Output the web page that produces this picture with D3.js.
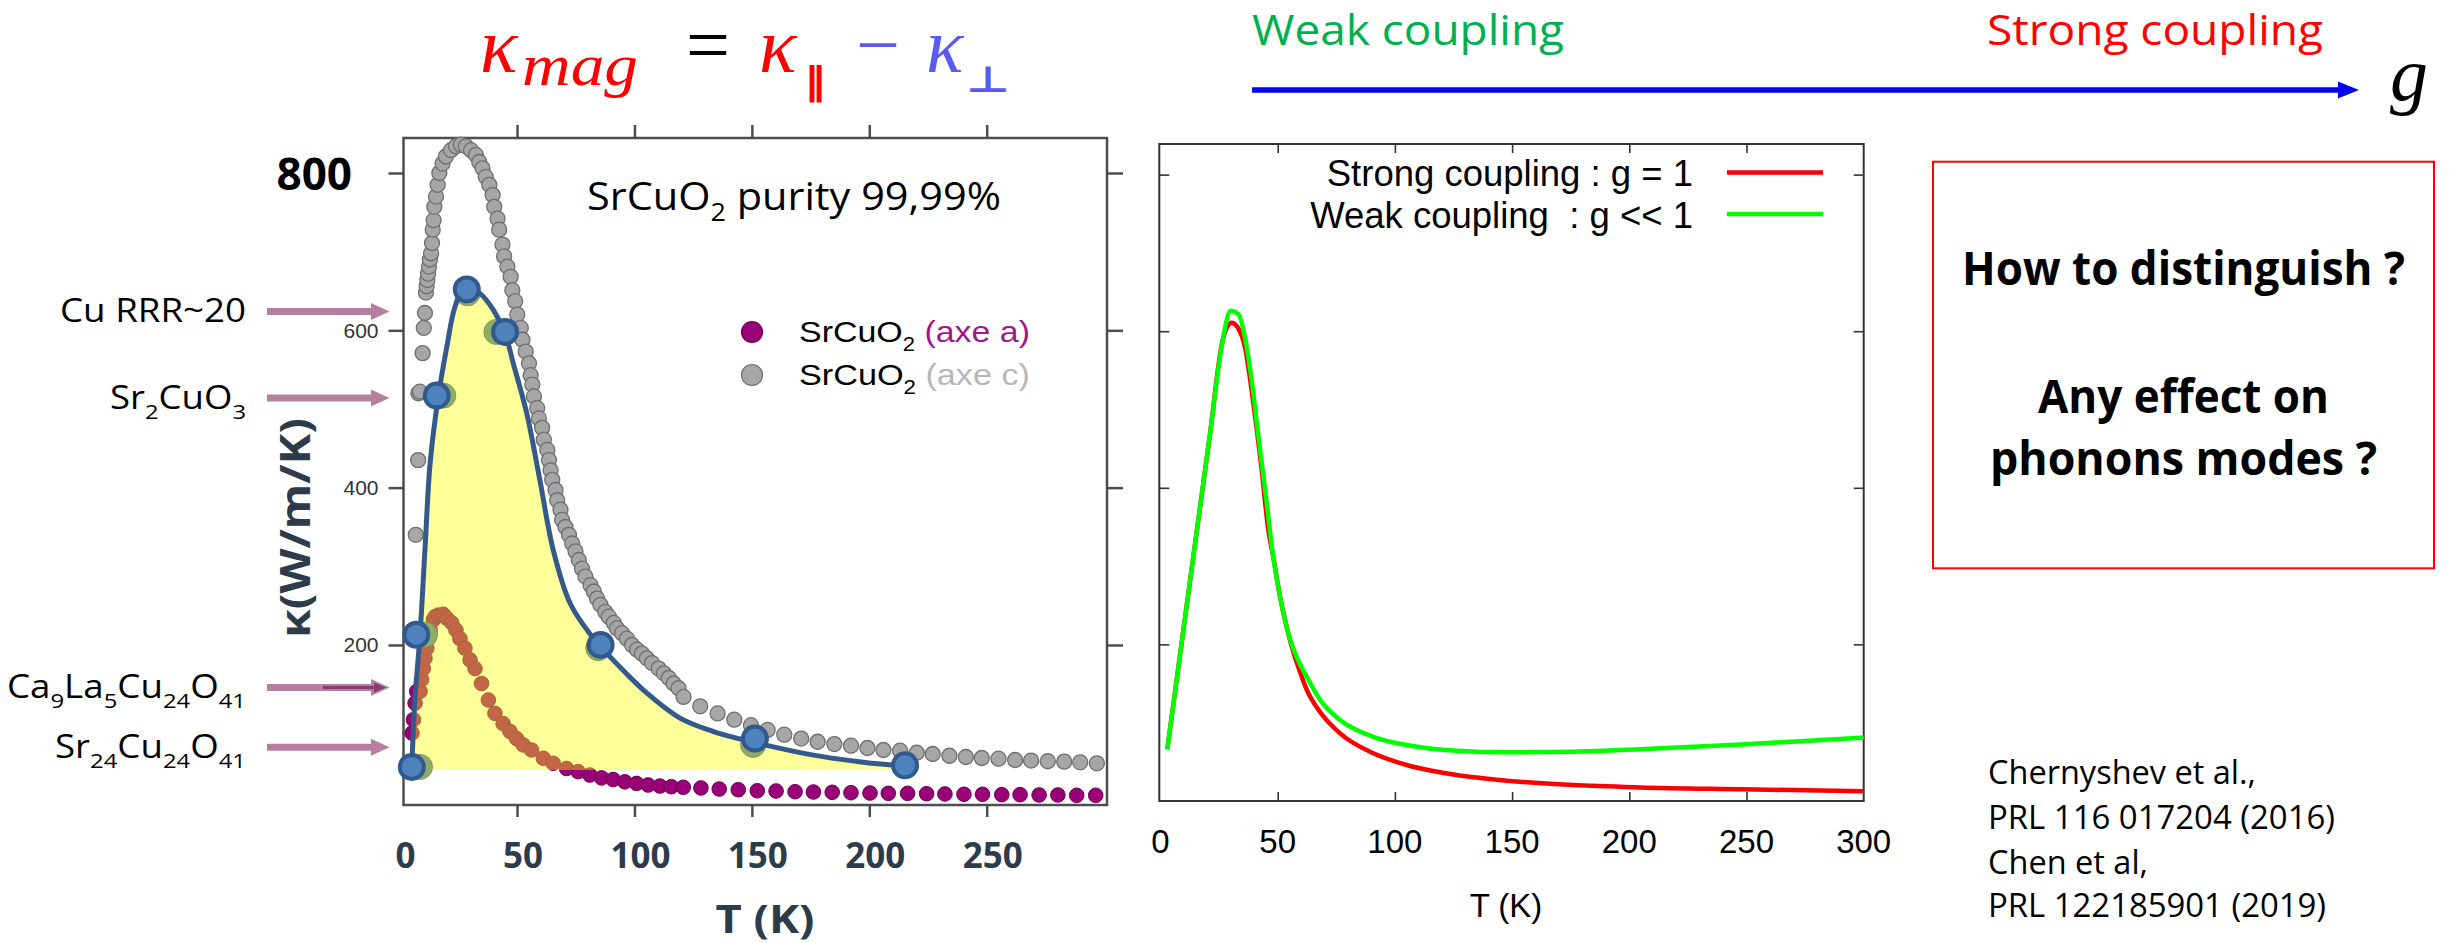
<!DOCTYPE html>
<html>
<head>
<meta charset="utf-8">
<script src="https://cdn.jsdelivr.net/npm/d3@7"></script>
<style>
  body { margin: 0; background: #fff; }
  svg { display: block; }
</style>
</head>
<body>
<div id="chart"></div>
<script>
// ---------- data ----------
// left panel: SrCuO2, axe c (grey dots)
const grayT = [6.9, 7.9, 8.0, 8.6, 9.8, 10.3, 10.8, 11.2, 11.5, 11.8, 12.1, 12.5, 12.9, 13.4, 13.8, 14.1, 14.5, 14.8, 15.5, 16.2, 16.9,
  18.3, 19.7, 21.9, 24.0, 26.1, 28.2, 30.4, 32.5, 33.9, 35.3, 36.7, 38.2, 39.6, 40.3, 41.7, 42.4, 43.8, 44.5, 45.9, 47.3,
  48.0, 49.2, 50.1, 51.6, 52.3, 53.7, 55.1, 55.8, 56.5, 57.2, 58.6, 59.3, 60.7, 61.4, 62.9, 63.6, 64.3, 65.0, 66.4, 67.1,
  68.5, 69.2, 70.6, 72.1, 73.5, 74.9, 76.3, 77.7, 79.1, 81.3, 82.7, 84.1, 85.5, 87.6, 89.1, 91.2, 92.6, 94.7, 96.8, 99.0,
  101.1, 103.2, 105.3, 107.5, 110.3, 112.5, 114.6, 116.7, 118.8, 120.9, 128.0, 135.4, 142.5, 149.6, 156.7, 163.8, 171.0, 178.0, 185.1, 192.2,
  199.2, 206.0, 213.1, 220.2, 227.0, 234.1, 241.1, 247.9, 255.0, 262.1, 268.9, 276.0, 283.0, 289.8, 296.9];
const grayK = [340, 435, 520, 522, 571, 603, 622, 648, 656, 664, 672, 681, 690, 698, 711, 728, 740, 757, 770, 785, 800,
  812, 821, 829, 834, 836, 834, 829, 823, 814, 806, 795, 785, 772, 757, 742, 728, 709, 694, 681, 668,
  651, 637, 620, 603, 588, 573, 558, 543, 531, 516, 501, 488, 476, 461, 448, 435, 422, 410, 397, 384,
  372, 359, 350, 340, 329, 319, 308, 297, 287, 276, 268, 259, 251, 242, 236, 228, 221, 215, 208, 200,
  194, 189, 183, 177, 170, 164, 158, 151, 145, 134, 122, 113, 105, 98, 92, 86, 81, 77, 74, 72,
  69, 66.5, 65.6, 63, 61.4, 59.2, 57.6, 56.3, 55.5, 53.8, 53, 52.2, 51.7, 50.8, 49.6];

// left panel: SrCuO2, axe a (purple dots)
const purpleT = [5.3, 5.9, 6.6, 7.3, 8.7, 9.4, 10.1, 10.8, 11.6, 12.3, 13.0, 14.4, 15.1, 16.5,
  18.6, 20.1, 22.2, 24.0, 25.7, 27.8, 30.0, 32.1, 34.9, 37.8, 40.6, 44.1, 47.0, 49.8, 52.6, 56.2, 61.2, 65.4, 71.1, 76.0,
  81.0, 86.0, 90.9, 95.9, 100.9, 105.8, 110.8, 115.7, 120.8, 128.3, 136.1, 144.2, 152.3, 160.3, 168.4, 176.2, 184.2, 192.2, 200.3, 208.1,
  216.3, 224.4, 232.2, 240.3, 248.2, 256.4, 264.2, 272.3, 280.3, 288.3, 296.4];
const purpleK = [88, 105, 126, 141, 141, 156, 170, 183, 196, 208, 219, 232, 236, 238,
  239, 234, 228, 219, 208, 196, 181, 170, 151, 130, 113, 100, 90, 81, 73, 66.5, 56, 49.6, 43, 39,
  34.7, 31, 29, 26, 24, 22, 20.7, 19.8, 19.1, 18.2, 16.9, 16.0, 14.7, 14.4, 13.5, 13.1, 12.7, 12.2, 11.8, 11.4,
  11.4, 10.9, 10.6, 10.2, 10.2, 9.7, 9.7, 9.3, 9.3, 8.9, 8.9];

// hand-drawn kappa_mag curve and its markers
const fitT = [5.2, 6.5, 8.7, 10.8, 13.0, 16.5, 20.1, 23.6, 27.9, 34.2, 39.9, 44.9, 48.4, 54.1, 59.7, 65.4,
  72.6, 81.1, 93.8, 105.2, 119.4, 133.6, 151.3, 176.2, 197.4, 215];
const fitK = [45, 130, 213, 321, 431, 516, 579, 630, 656, 647, 626, 596, 558, 495, 410, 321,
  253, 214, 172, 139, 107, 90, 76, 60, 51, 46];
const yellowBaseK = 41;
const blueMarkT = [5.2, 7.1, 15.8, 28.6, 44.9, 85.6, 151.3, 215.2];
const blueMarkK = [45, 213, 517, 652, 598, 200, 81, 47];
const greenMarkT = [8.7, 10.8, 18.6, 28.9, 41.2, 84.6, 150.5];
const greenMarkK = [45, 213, 517, 647, 598, 196, 73];

// materials pointed at by the arrows (kappa level)
const matNames = [["Cu RRR~20"], ["Sr", ["2"], "CuO", ["3"]], ["Ca", ["9"], "La", ["5"], "Cu", ["24"], "O", ["41"]], ["Sr", ["24"], "Cu", ["24"], "O", ["41"]]];
const matK = [624, 514, 146, 70];
const matLen = [186, 136, 239, 191];

const leftYTicks = [200, 400, 600, 800];
const leftXTicks = [0, 50, 100, 150, 200, 250];

// right panel: model curves
const weakT = [2.9, 14.0, 21.1, 26.5, 29.9, 33.2, 36.5, 38.9, 41.8, 45.0, 48.1, 51.0, 53.8, 56.7, 59.5, 62.4, 68.0,
  76.6, 90.8, 105.0, 126.4, 147.7, 176.1, 204.6, 248.0, 300.0];
const weakV = [0.33, 1.56, 2.34, 2.94, 3.131, 3.11, 2.923, 2.688, 2.326, 1.943, 1.56, 1.305, 1.113, 0.97, 0.875, 0.794, 0.648,
  0.517, 0.41, 0.358, 0.321, 0.311, 0.315, 0.33, 0.361, 0.405];
const strongT = [2.9, 14.0, 21.1, 26.5, 30.4, 32.9, 36.0, 39.6, 43.2, 46.0, 48.1, 51.0, 53.8, 56.7, 59.5, 62.4, 68.0,
  76.6, 90.8, 105.0, 126.4, 147.7, 176.1, 204.6, 248.0, 300.0];
const strongV = [0.33, 1.56, 2.34, 2.94, 3.054, 3.025, 2.9, 2.54, 2.11, 1.73, 1.56, 1.305, 1.113, 0.95, 0.825, 0.709, 0.57,
  0.432, 0.305, 0.23, 0.166, 0.13, 0.102, 0.087, 0.075, 0.062];
const rightXTicks = [0, 50, 100, 150, 200, 250, 300];
const rightYTicks = [1, 2, 3, 4];

const citations = ["Chernyshev et al.,", "PRL 116 017204 (2016)", "Chen et al,", "PRL 122185901 (2019)"];
const citeLen = [268, 347, 160, 338];
const boxLines = ["How to distinguish ?", "Any effect on", "phonons modes ?"];
const boxLen = [443, 291, 387];

// ---------- setup ----------
const W = 2453, H = 943;
const SANS = "'Open Sans', sans-serif";
const ARIAL = "'Liberation Sans', Arial, sans-serif";
const SERIF = "'Liberation Serif', 'Times New Roman', serif";
const SYM = "'DejaVu Sans', sans-serif";
const SLATE = "#2d3b4a";

const svg = d3.select("#chart").append("svg")
  .attr("width", W).attr("height", H);
svg.append("rect").attr("width", W).attr("height", H).attr("fill", "#fff");

// text with subscripts; parts are strings or [str] arrays for subscripts
function rich(parent, x, y, parts, o) {
  const t = parent.append("text")
    .attr("x", x).attr("y", y)
    .attr("font-family", o.font).attr("font-size", o.size)
    .attr("font-weight", o.weight || "normal")
    .attr("text-anchor", o.anchor || "start")
    .attr("fill", o.fill || "#000");
  if (o.len) t.attr("textLength", o.len).attr("lengthAdjust", "spacingAndGlyphs");
  let shift = 0;
  parts.forEach(p => {
    const sub = Array.isArray(p);
    const str = sub ? p[0] : p;
    const target = sub ? o.size * 0.3 : 0;
    const ts = t.append("tspan").text(str).attr("dy", target - shift);
    if (sub) ts.attr("font-size", o.size * 0.65);
    shift = target;
  });
  return t;
}

// ---------- left panel ----------
const xL = d3.scaleLinear().domain([0, 300]).range([399.6, 1104.15]);
const yL = d3.scaleLinear().domain([0, 800]).range([802.3, 173]);
const fL = { x0: 403.5, x1: 1107, y0: 138, y1: 805 };

const left = svg.append("g");

left.append("rect")
  .attr("x", fL.x0).attr("y", fL.y0)
  .attr("width", fL.x1 - fL.x0).attr("height", fL.y1 - fL.y0)
  .attr("fill", "none").attr("stroke", "#4d4d4d").attr("stroke-width", 2.5);

// axes (outward ticks)
const axL = left.append("g").attr("transform", `translate(${fL.x0},0)`)
  .call(d3.axisLeft(yL).tickValues(leftYTicks).tickSize(15).tickPadding(10)
    .tickFormat(d => d === 800 ? "" : d));
const axR = left.append("g").attr("transform", `translate(${fL.x1},0)`)
  .call(d3.axisRight(yL).tickValues(leftYTicks).tickSize(16).tickFormat(""));
const axT = left.append("g").attr("transform", `translate(0,${fL.y0})`)
  .call(d3.axisTop(xL).tickValues(leftXTicks.slice(1)).tickSize(13).tickFormat(""));
const axB = left.append("g").attr("transform", `translate(0,${fL.y1})`)
  .call(d3.axisBottom(xL).tickValues(leftXTicks.slice(1)).tickSize(12).tickFormat(""));
[axL, axR, axT, axB].forEach(a => {
  a.select(".domain").remove();
  a.selectAll(".tick line").attr("stroke", "#4d4d4d").attr("stroke-width", 2.5);
  a.selectAll(".tick text").attr("font-family", ARIAL).attr("font-size", 21).attr("fill", "#333");
});

// big "800" label
left.append("text")
  .attr("x", 352).attr("y", yL(800) + 17)
  .attr("text-anchor", "end")
  .attr("font-family", SANS).attr("font-weight", 700).attr("font-size", 44)
  .attr("fill", "#000").text("800");

// bold x tick labels
left.selectAll(".xlab").data(leftXTicks).enter().append("text")
  .attr("x", d => xL(d) + 6).attr("y", 868)
  .attr("text-anchor", "middle")
  .attr("font-family", SANS).attr("font-weight", 700).attr("font-size", 35)
  .attr("fill", SLATE).text(d => d);

left.append("text")
  .attr("x", 765).attr("y", 933)
  .attr("text-anchor", "middle")
  .attr("font-family", SANS).attr("font-weight", 700).attr("font-size", 39)
  .attr("textLength", 99).attr("lengthAdjust", "spacingAndGlyphs")
  .attr("fill", SLATE).text("T (K)");

left.append("text")
  .attr("transform", "translate(310,528) rotate(-90)")
  .attr("text-anchor", "middle")
  .attr("font-family", SANS).attr("font-weight", 700).attr("font-size", 42)
  .attr("textLength", 220).attr("lengthAdjust", "spacingAndGlyphs")
  .attr("fill", SLATE).text("κ(W/m/K)");

// data dots
const grayData = grayT.map((t, i) => ({ t, k: grayK[i] }));
const purpleData = purpleT.map((t, i) => ({ t, k: purpleK[i] }));

left.append("g").selectAll("circle").data(grayData).enter().append("circle")
  .attr("cx", d => xL(d.t)).attr("cy", d => yL(d.k)).attr("r", 7.5)
  .attr("fill", "#a6a6a6").attr("stroke", "#6f6f6f").attr("stroke-width", 1.3);

left.append("g").selectAll("circle").data(purpleData).enter().append("circle")
  .attr("cx", d => xL(d.t)).attr("cy", d => yL(d.k)).attr("r", 7.3)
  .attr("fill", "#990077").attr("stroke", "#6e0056").attr("stroke-width", 1);

// translucent yellow area under the drawn curve
const fitData = fitT.map((t, i) => ({ t, k: fitK[i] }));
const fitCurve = d3.curveCatmullRom.alpha(0.5);
left.append("path").datum(fitData)
  .attr("d", d3.area().x(d => xL(d.t)).y0(yL(yellowBaseK)).y1(d => yL(d.k)).curve(fitCurve))
  .attr("fill", "#ffff00").attr("fill-opacity", 0.4);

left.append("g").selectAll("circle").data(greenMarkT.map((t, i) => ({ t, k: greenMarkK[i] })))
  .enter().append("circle")
  .attr("cx", d => xL(d.t)).attr("cy", d => yL(d.k)).attr("r", 12.5)
  .attr("fill", "#8fac66").attr("stroke", "#7f9b58").attr("stroke-width", 1);

left.append("path").datum(fitData)
  .attr("d", d3.line().x(d => xL(d.t)).y(d => yL(d.k)).curve(fitCurve))
  .attr("fill", "none").attr("stroke", "#345a8c").attr("stroke-width", 5)
  .attr("stroke-linecap", "round");

left.append("g").selectAll("circle").data(blueMarkT.map((t, i) => ({ t, k: blueMarkK[i] })))
  .enter().append("circle")
  .attr("cx", d => xL(d.t)).attr("cy", d => yL(d.k)).attr("r", 12)
  .attr("fill", "#4f81bd").attr("stroke", "#30598d").attr("stroke-width", 4);

// inner title and legend
rich(left, 587, 210, ["SrCuO", ["2"], " purity 99,99%"], { font: SANS, size: 38, len: 414 });

const legend = [
  { y: 332, fill: "#990077", stroke: "#6e0056", tag: "(axe a)", col: "#a0188a" },
  { y: 375, fill: "#a6a6a6", stroke: "#6f6f6f", tag: "(axe c)", col: "#b7b7b7" }
];
legend.forEach(l => {
  left.append("circle").attr("cx", 752).attr("cy", l.y).attr("r", 10.5)
    .attr("fill", l.fill).attr("stroke", l.stroke).attr("stroke-width", 1.2);
  const t = rich(left, 799, l.y + 10, ["SrCuO", ["2"], " "], { font: ARIAL, size: 30, len: 231 });
  t.append("tspan").attr("fill", l.col).text(l.tag);
});

// material arrows on the left
const arrows = svg.append("g");
matNames.forEach((parts, i) => {
  const y = yL(matK[i]);
  arrows.append("line").attr("x1", 267).attr("x2", 373).attr("y1", y).attr("y2", y)
    .attr("stroke", "#b5809f").attr("stroke-width", 7);
  arrows.append("path")
    .attr("d", `M371,${y - 8.5}L389.5,${y}L371,${y + 8.5}Z`).attr("fill", "#b5809f");
  if (i === 2) {
    arrows.append("line").attr("x1", 323).attr("x2", 376).attr("y1", y).attr("y2", y)
      .attr("stroke", "#8a3c6c").attr("stroke-width", 3);
    arrows.append("path")
      .attr("d", `M374,${y - 5}L386,${y}L374,${y + 5}Z`).attr("fill", "#8a3c6c");
  }
  rich(arrows, 246, y + 11, parts, { font: SANS, size: 32, anchor: "end", len: matLen[i] });
});

// ---------- formula ----------
const fm = svg.append("g");
fm.append("text").attr("x", 480).attr("y", 72).attr("font-family", SERIF).attr("font-style", "italic")
  .attr("font-size", 78).attr("fill", "#ff0000").text("κ");
fm.append("text").attr("x", 522).attr("y", 85).attr("font-family", SERIF).attr("font-style", "italic")
  .attr("font-size", 60).attr("fill", "#ff0000")
  .attr("textLength", 116).attr("lengthAdjust", "spacingAndGlyphs").text("mag");
fm.append("text").attr("x", 686).attr("y", 71).attr("font-family", SERIF)
  .attr("font-size", 78).attr("fill", "#000").text("=");
fm.append("text").attr("x", 759).attr("y", 72).attr("font-family", SERIF).attr("font-style", "italic")
  .attr("font-size", 78).attr("fill", "#ff0000").text("κ");
fm.append("text").attr("x", 804).attr("y", 93).attr("font-family", SYM)
  .attr("font-size", 38).attr("font-weight", 700).attr("fill", "#ff0000")
  .attr("textLength", 22).attr("lengthAdjust", "spacingAndGlyphs").text("‖");
fm.append("text").attr("x", 856).attr("y", 71).attr("font-family", SERIF)
  .attr("font-size", 78).attr("fill", "#5a5af2").text("−");
fm.append("text").attr("x", 926).attr("y", 72).attr("font-family", SERIF).attr("font-style", "italic")
  .attr("font-size", 78).attr("fill", "#5a5af2").text("κ");
fm.append("text").attr("x", 966).attr("y", 92).attr("font-family", SYM)
  .attr("font-size", 36).attr("font-weight", 700).attr("fill", "#5a5af2")
  .attr("textLength", 44).attr("lengthAdjust", "spacingAndGlyphs").text("⊥");

// ---------- coupling arrow ----------
const topG = svg.append("g");
topG.append("text").attr("x", 1252).attr("y", 45).attr("font-family", SANS).attr("font-size", 42)
  .attr("fill", "#00b050").attr("textLength", 312).attr("lengthAdjust", "spacingAndGlyphs").text("Weak coupling");
topG.append("text").attr("x", 1987).attr("y", 45).attr("font-family", SANS).attr("font-size", 42)
  .attr("fill", "#ff0000").attr("textLength", 336).attr("lengthAdjust", "spacingAndGlyphs").text("Strong coupling");
topG.append("line").attr("x1", 1252).attr("x2", 2341).attr("y1", 90).attr("y2", 90)
  .attr("stroke", "#0000ff").attr("stroke-width", 5.5);
topG.append("path").attr("d", "M2338,81.5L2359,90L2338,98.5Z").attr("fill", "#0000ff");
topG.append("text").attr("x", 2390).attr("y", 100).attr("font-family", SERIF).attr("font-style", "italic")
  .attr("font-size", 76).attr("fill", "#000").text("g");

// ---------- right panel ----------
const xR = d3.scaleLinear().domain([0, 300]).range([1160.5, 1863.7]);
const yR = d3.scaleLinear().domain([0, 4]).range([801, 174.6]);
const fR = { x0: 1159.3, x1: 1863.7, y0: 144, y1: 801 };
const right = svg.append("g");

right.append("rect")
  .attr("x", fR.x0).attr("y", fR.y0).attr("width", fR.x1 - fR.x0).attr("height", fR.y1 - fR.y0)
  .attr("fill", "none").attr("stroke", "#333").attr("stroke-width", 2);

const rAx = [
  right.append("g").attr("transform", `translate(${fR.x0},0)`).call(d3.axisLeft(yR).tickValues(rightYTicks).tickSize(-10).tickFormat("")),
  right.append("g").attr("transform", `translate(${fR.x1},0)`).call(d3.axisRight(yR).tickValues(rightYTicks).tickSize(-10).tickFormat("")),
  right.append("g").attr("transform", `translate(0,${fR.y0})`).call(d3.axisTop(xR).tickValues(rightXTicks.slice(1, -1)).tickSize(-9).tickFormat("")),
  right.append("g").attr("transform", `translate(0,${fR.y1})`).call(d3.axisBottom(xR).tickValues(rightXTicks.slice(1, -1)).tickSize(-9).tickFormat(""))
];
rAx.forEach(a => {
  a.select(".domain").remove();
  a.selectAll(".tick line").attr("stroke", "#333").attr("stroke-width", 1.6);
});

right.selectAll(".rx").data(rightXTicks).enter().append("text")
  .attr("x", d => xR(d)).attr("y", 853).attr("text-anchor", "middle")
  .attr("font-family", ARIAL).attr("font-size", 33).attr("fill", "#000").text(d => d);
right.append("text").attr("x", 1506).attr("y", 917).attr("text-anchor", "middle")
  .attr("font-family", ARIAL).attr("font-size", 33).attr("fill", "#000").text("T (K)");

const rLine = d3.line().x(d => xR(d.t)).y(d => yR(d.v)).curve(d3.curveMonotoneX);
right.append("path").datum(strongT.map((t, i) => ({ t, v: strongV[i] })))
  .attr("d", rLine).attr("fill", "none").attr("stroke", "#ff0000").attr("stroke-width", 4.5);
right.append("path").datum(weakT.map((t, i) => ({ t, v: weakV[i] })))
  .attr("d", rLine).attr("fill", "none").attr("stroke", "#00ff00").attr("stroke-width", 4.5);

const rLeg = [
  { label: "Strong coupling : g = 1", color: "#ff0000", y: 186, ly: 172.6 },
  { label: "Weak coupling  : g << 1", color: "#00ff00", y: 228, ly: 214 }
];
rLeg.forEach(l => {
  right.append("text").attr("x", 1693).attr("y", l.y).attr("text-anchor", "end")
    .attr("font-family", ARIAL).attr("font-size", 36.5).attr("fill", "#000")
    .style("white-space", "pre").text(l.label);
  right.append("line").attr("x1", 1727).attr("x2", 1823).attr("y1", l.ly).attr("y2", l.ly)
    .attr("stroke", l.color).attr("stroke-width", 4.5);
});

// ---------- question box and references ----------
const side = svg.append("g");
side.append("rect").attr("x", 1933).attr("y", 161.7).attr("width", 501).attr("height", 406.6)
  .attr("fill", "none").attr("stroke", "#ff0000").attr("stroke-width", 2);
[285, 413, 475].forEach((y, i) => {
  side.append("text").attr("x", 2183.5).attr("y", y).attr("text-anchor", "middle")
    .attr("font-family", SANS).attr("font-weight", 700).attr("font-size", 46)
    .attr("textLength", boxLen[i]).attr("lengthAdjust", "spacingAndGlyphs")
    .attr("fill", "#000").text(boxLines[i]);
});
[784, 829, 874, 917].forEach((y, i) => {
  side.append("text").attr("x", 1988).attr("y", y)
    .attr("font-family", SANS).attr("font-size", 32)
    .attr("textLength", citeLen[i]).attr("lengthAdjust", "spacingAndGlyphs")
    .attr("fill", "#000").text(citations[i]);
});
</script>
</body>
</html>
